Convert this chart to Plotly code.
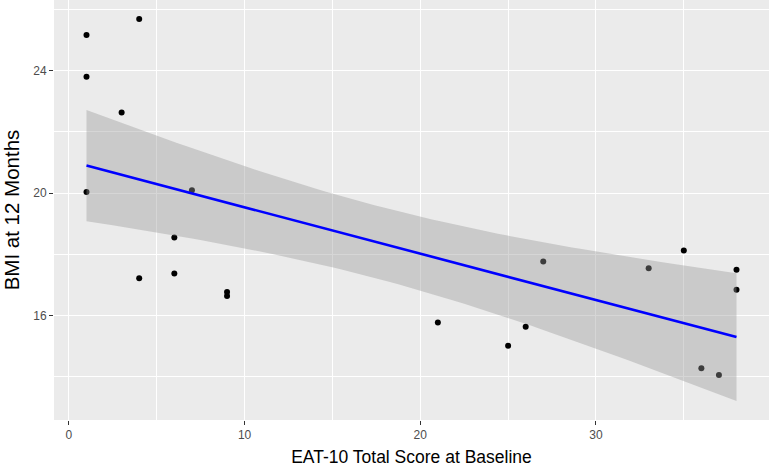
import numpy as np
import plotly.graph_objects as go

# Data
eat10 = [1, 1, 1, 3, 4, 4, 6, 6, 7, 9, 9, 21, 25, 26, 27, 33, 35, 36, 37, 38, 38]
bmi = [25.16, 23.80, 20.04, 22.63, 25.68, 17.22, 18.55, 17.38, 20.09, 16.77, 16.64,
       15.78, 15.02, 15.64, 17.77, 17.55, 18.13, 14.28, 14.06, 17.50, 16.85]
x_ticks = [0, 10, 20, 30]
y_ticks = [16, 20, 24]

x = np.array(eat10, dtype=float)
y = np.array(bmi, dtype=float)
n = len(x)

# Linear model fit with 95% confidence band (as geom_smooth(method="lm"))
slope, intercept = np.polyfit(x, y, 1)
resid = y - (intercept + slope * x)
dof = n - 2
s = np.sqrt(np.sum(resid ** 2) / dof)
t_crit = 2.093  # t quantile 0.975, df = 19
xg = np.linspace(x.min(), x.max(), 80)
yg = intercept + slope * xg
se = s * np.sqrt(1.0 / n + (xg - x.mean()) ** 2 / np.sum((x - x.mean()) ** 2))
upper = yg + t_crit * se
lower = yg - t_crit * se

# ggplot-style expanded ranges
xr = [x.min() - 0.05 * (x.max() - x.min()), x.max() + 0.05 * (x.max() - x.min())]
ylo = min(y.min(), lower.min())
yhi = max(y.max(), upper.max())
yr = [ylo - 0.05 * (yhi - ylo), yhi + 0.05 * (yhi - ylo)]

fig = go.Figure()
fig.add_trace(go.Scatter(x=eat10, y=bmi, mode="markers",
                         marker=dict(color="black", size=6), showlegend=False,
                         hoverinfo="skip"))
fig.add_trace(go.Scatter(x=np.concatenate([xg, xg[::-1]]),
                         y=np.concatenate([upper, lower[::-1]]),
                         fill="toself", fillcolor="rgba(153,153,153,0.4)",
                         line=dict(width=0), mode="lines", showlegend=False,
                         hoverinfo="skip"))
fig.add_trace(go.Scatter(x=xg, y=yg, mode="lines",
                         line=dict(color="#0000FF", width=2.6), showlegend=False))

axis_common = dict(
    showgrid=True, gridcolor="white", gridwidth=1.1,
    zeroline=False, showline=False,
    ticks="outside", ticklen=4, tickwidth=1.1, tickcolor="#333333",
    tickfont=dict(family="Liberation Sans, Arial", size=12, color="#4D4D4D"),
)

fig.update_xaxes(range=xr, tickvals=x_ticks, **axis_common,
                 minor=dict(tickvals=[5, 15, 25, 35], showgrid=True,
                            gridcolor="white", gridwidth=0.5, ticks=""),
                 title=dict(text="EAT-10 Total Score at Baseline",
                            font=dict(family="Liberation Sans, Arial", size=17.5, color="black"),
                            standoff=13))
fig.update_yaxes(range=yr, tickvals=y_ticks, **axis_common,
                 minor=dict(tickvals=[14, 18, 22, 26], showgrid=True,
                            gridcolor="white", gridwidth=0.5, ticks=""),
                 title=dict(text="BMI at 12 Months",
                            font=dict(family="Liberation Sans, Arial", size=20.5, color="black"),
                            standoff=11))

fig.update_layout(
    width=769, height=467,
    margin=dict(l=54, r=0, t=0, b=47, autoexpand=False),
    plot_bgcolor="#EBEBEB", paper_bgcolor="white",
)

fig.write_html("out.html", config={"displayModeBar": False},
               post_script="document.body.style.margin='0px';")
